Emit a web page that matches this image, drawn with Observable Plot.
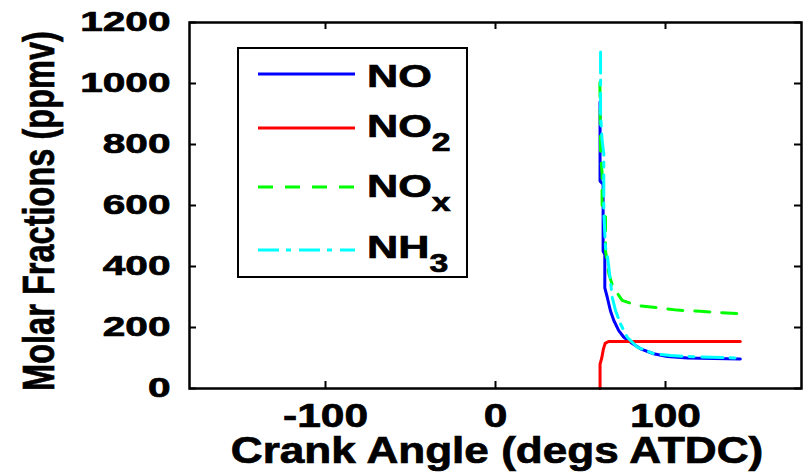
<!DOCTYPE html>
<html><head><meta charset="utf-8">
<script src="https://cdn.jsdelivr.net/npm/d3@7"></script>
<script src="https://cdn.jsdelivr.net/npm/@observablehq/plot@0.6"></script>
<style>html,body{margin:0;padding:0;background:#fff} svg{display:block} svg text{stroke:#000;stroke-width:0.7px}</style>
</head><body><div id="chart"></div>
<script>
// ---- data ----
const seriesNames = ["NO", "NO2", "NOx", "NH3"];

const noAngle  = [61.5, 61.5, 63.3, 63.3, 64.3, 64.3, 65.7, 67.6, 69.6, 72.5, 75.5, 79.4, 85.3, 93, 101, 113, 144];
const noPpm    = [940, 680, 670, 450, 440, 330, 300, 255, 223, 190, 168, 152, 130, 114, 105, 100, 97];

const no2Angle = [61.5, 61.5, 62.5, 63.5, 64.5, 66.5, 144];
const no2Ppm   = [0, 80, 100, 130, 148, 154, 154];

const noxAngle = [61.4, 61.8, 62.7, 62.7, 64.7, 64.7, 66.7, 68.5, 70.6, 74.5, 83.3, 95, 107, 120.6, 144];
const noxPpm   = [1004, 770, 704, 573, 562, 452, 376, 343, 321, 289, 272, 265, 257, 253, 245];

const nh3Angle = [61.8, 61.8, 62.7, 63.7, 63.7, 64.7, 65.7, 67.6, 68.6, 70.6, 73.5, 77.5, 83.3, 93.1, 103, 120.6, 144];
const nh3Ppm   = [1103, 900, 813, 770, 581, 462, 442, 354, 300, 256, 212, 168, 136, 114, 108, 103, 100];

const xTicks = [-100, 0, 100];
const yTicks = [0, 200, 400, 600, 800, 1000, 1200];
const xLabel = "Crank Angle (degs ATDC)";
const yLabel = "Molar Fractions (ppmv)";
const legendMain = ["NO", "NO", "NO", "NH"];
const legendSub  = ["", "2", "x", "3"];

// ---- build table ----
const rows = [];
function addSeries(name, xs, ys) { xs.forEach((x, i) => rows.push({series: name, angle: x, ppm: ys[i]})); }
addSeries("NO", noAngle, noPpm);
addSeries("NO2", no2Angle, no2Ppm);
addSeries("NOx", noxAngle, noxPpm);
addSeries("NH3", nh3Angle, nh3Ppm);

const colors = {NO: "#0000ff", NO2: "#ff0000", NOx: "#00ff00", NH3: "#00ffff"};
const dashes = {NO: null, NO2: null, NOx: "15,12", NH3: "21,7,5,8"};

const W = 809, H = 474, mL = 189, mR = 8, mT = 22, mB = 86;
const fw = W - mL - mR, fh = H - mT - mB;
const font = "'Liberation Sans', Arial, Helvetica, sans-serif";

const lineMarks = seriesNames.map(s => Plot.line(rows.filter(d => d.series === s), {
  x: "angle", y: "ppm", stroke: colors[s], strokeWidth: 3, strokeLinejoin: "round",
  ...(dashes[s] ? {strokeDasharray: dashes[s]} : {})
}));

const plot = Plot.plot({
  width: W, height: H,
  marginLeft: mL, marginRight: mR, marginTop: mT, marginBottom: mB,
  style: {fontFamily: font, fontWeight: "bold", background: "#fff", color: "#000", overflow: "visible"},
  x: {domain: [-180, 180]},
  y: {domain: [0, 1200]},
  marks: [
    ...lineMarks,
    Plot.tickX(xTicks, {x: d => d, insetTop: fh - 7, stroke: "#000", strokeWidth: 2}),
    Plot.tickX(xTicks, {x: d => d, insetBottom: fh - 7, stroke: "#000", strokeWidth: 2}),
    Plot.tickY(yTicks, {y: d => d, insetRight: fw - 7, stroke: "#000", strokeWidth: 2}),
    Plot.tickY(yTicks, {y: d => d, insetLeft: fw - 7, stroke: "#000", strokeWidth: 2}),
    Plot.frame({stroke: "#000", strokeWidth: 2.5}),
    Plot.axisX({ticks: xTicks, tickSize: 0, tickPadding: 14, fontSize: 34, fontWeight: "bold", label: null, tickFormat: d => String(d)}),
    Plot.axisY({ticks: yTicks, tickSize: 0, tickPadding: 19, fontSize: 28, fontWeight: "bold", label: null, tickFormat: d => String(d)})
  ]
});

// stretch tick labels horizontally (matching the wide lettering of the reference)
function stretch(sel, sx) {
  plot.querySelectorAll(sel).forEach(t => {
    const tr = t.getAttribute("transform") || "";
    t.setAttribute("transform", tr + ` scale(${sx},1)`);
  });
}
stretch('[aria-label="x-axis tick label"] text', 1.25);
stretch('[aria-label="y-axis tick label"] text', 1.45);

const svg = d3.select(plot);
const xs = plot.scale("x");

// axis titles
svg.append("text")
  .attr("transform", `translate(${xs.apply(0) + 2},463) scale(1.225,1)`)
  .attr("text-anchor", "middle").attr("font-size", 36).attr("font-weight", "bold")
  .attr("font-family", font).attr("fill", "#000").text(xLabel);
svg.append("text")
  .attr("transform", `translate(54,${mT + fh / 2 + 6}) rotate(-90) scale(0.74,1)`)
  .attr("text-anchor", "middle").attr("font-size", 44).attr("font-weight", "bold")
  .attr("font-family", font).attr("fill", "#000").text(yLabel);

// legend
const lg = svg.append("g");
lg.append("rect").attr("x", 238).attr("y", 48).attr("width", 229).attr("height", 229)
  .attr("fill", "#fff").attr("stroke", "#000").attr("stroke-width", 2);
const lineYs = [74, 128, 187, 250];
const baseYs = [87, 137, 197, 258];
seriesNames.forEach((s, i) => {
  const l = lg.append("line").attr("x1", 258).attr("x2", 355).attr("y1", lineYs[i]).attr("y2", lineYs[i])
    .attr("stroke", colors[s]).attr("stroke-width", 3);
  if (dashes[s]) l.attr("stroke-dasharray", dashes[s]);
  const t = lg.append("text")
    .attr("transform", `translate(367,${baseYs[i]}) scale(1.35,1)`)
    .attr("text-anchor", "start")
    .attr("font-size", 32).attr("font-weight", "bold").attr("font-family", font).attr("fill", "#000");
  t.append("tspan").text(legendMain[i]);
  if (legendSub[i]) t.append("tspan").attr("font-size", 25).attr("dy", 14).text(legendSub[i]);
});

document.getElementById("chart").appendChild(plot);
</script>
</body></html>
